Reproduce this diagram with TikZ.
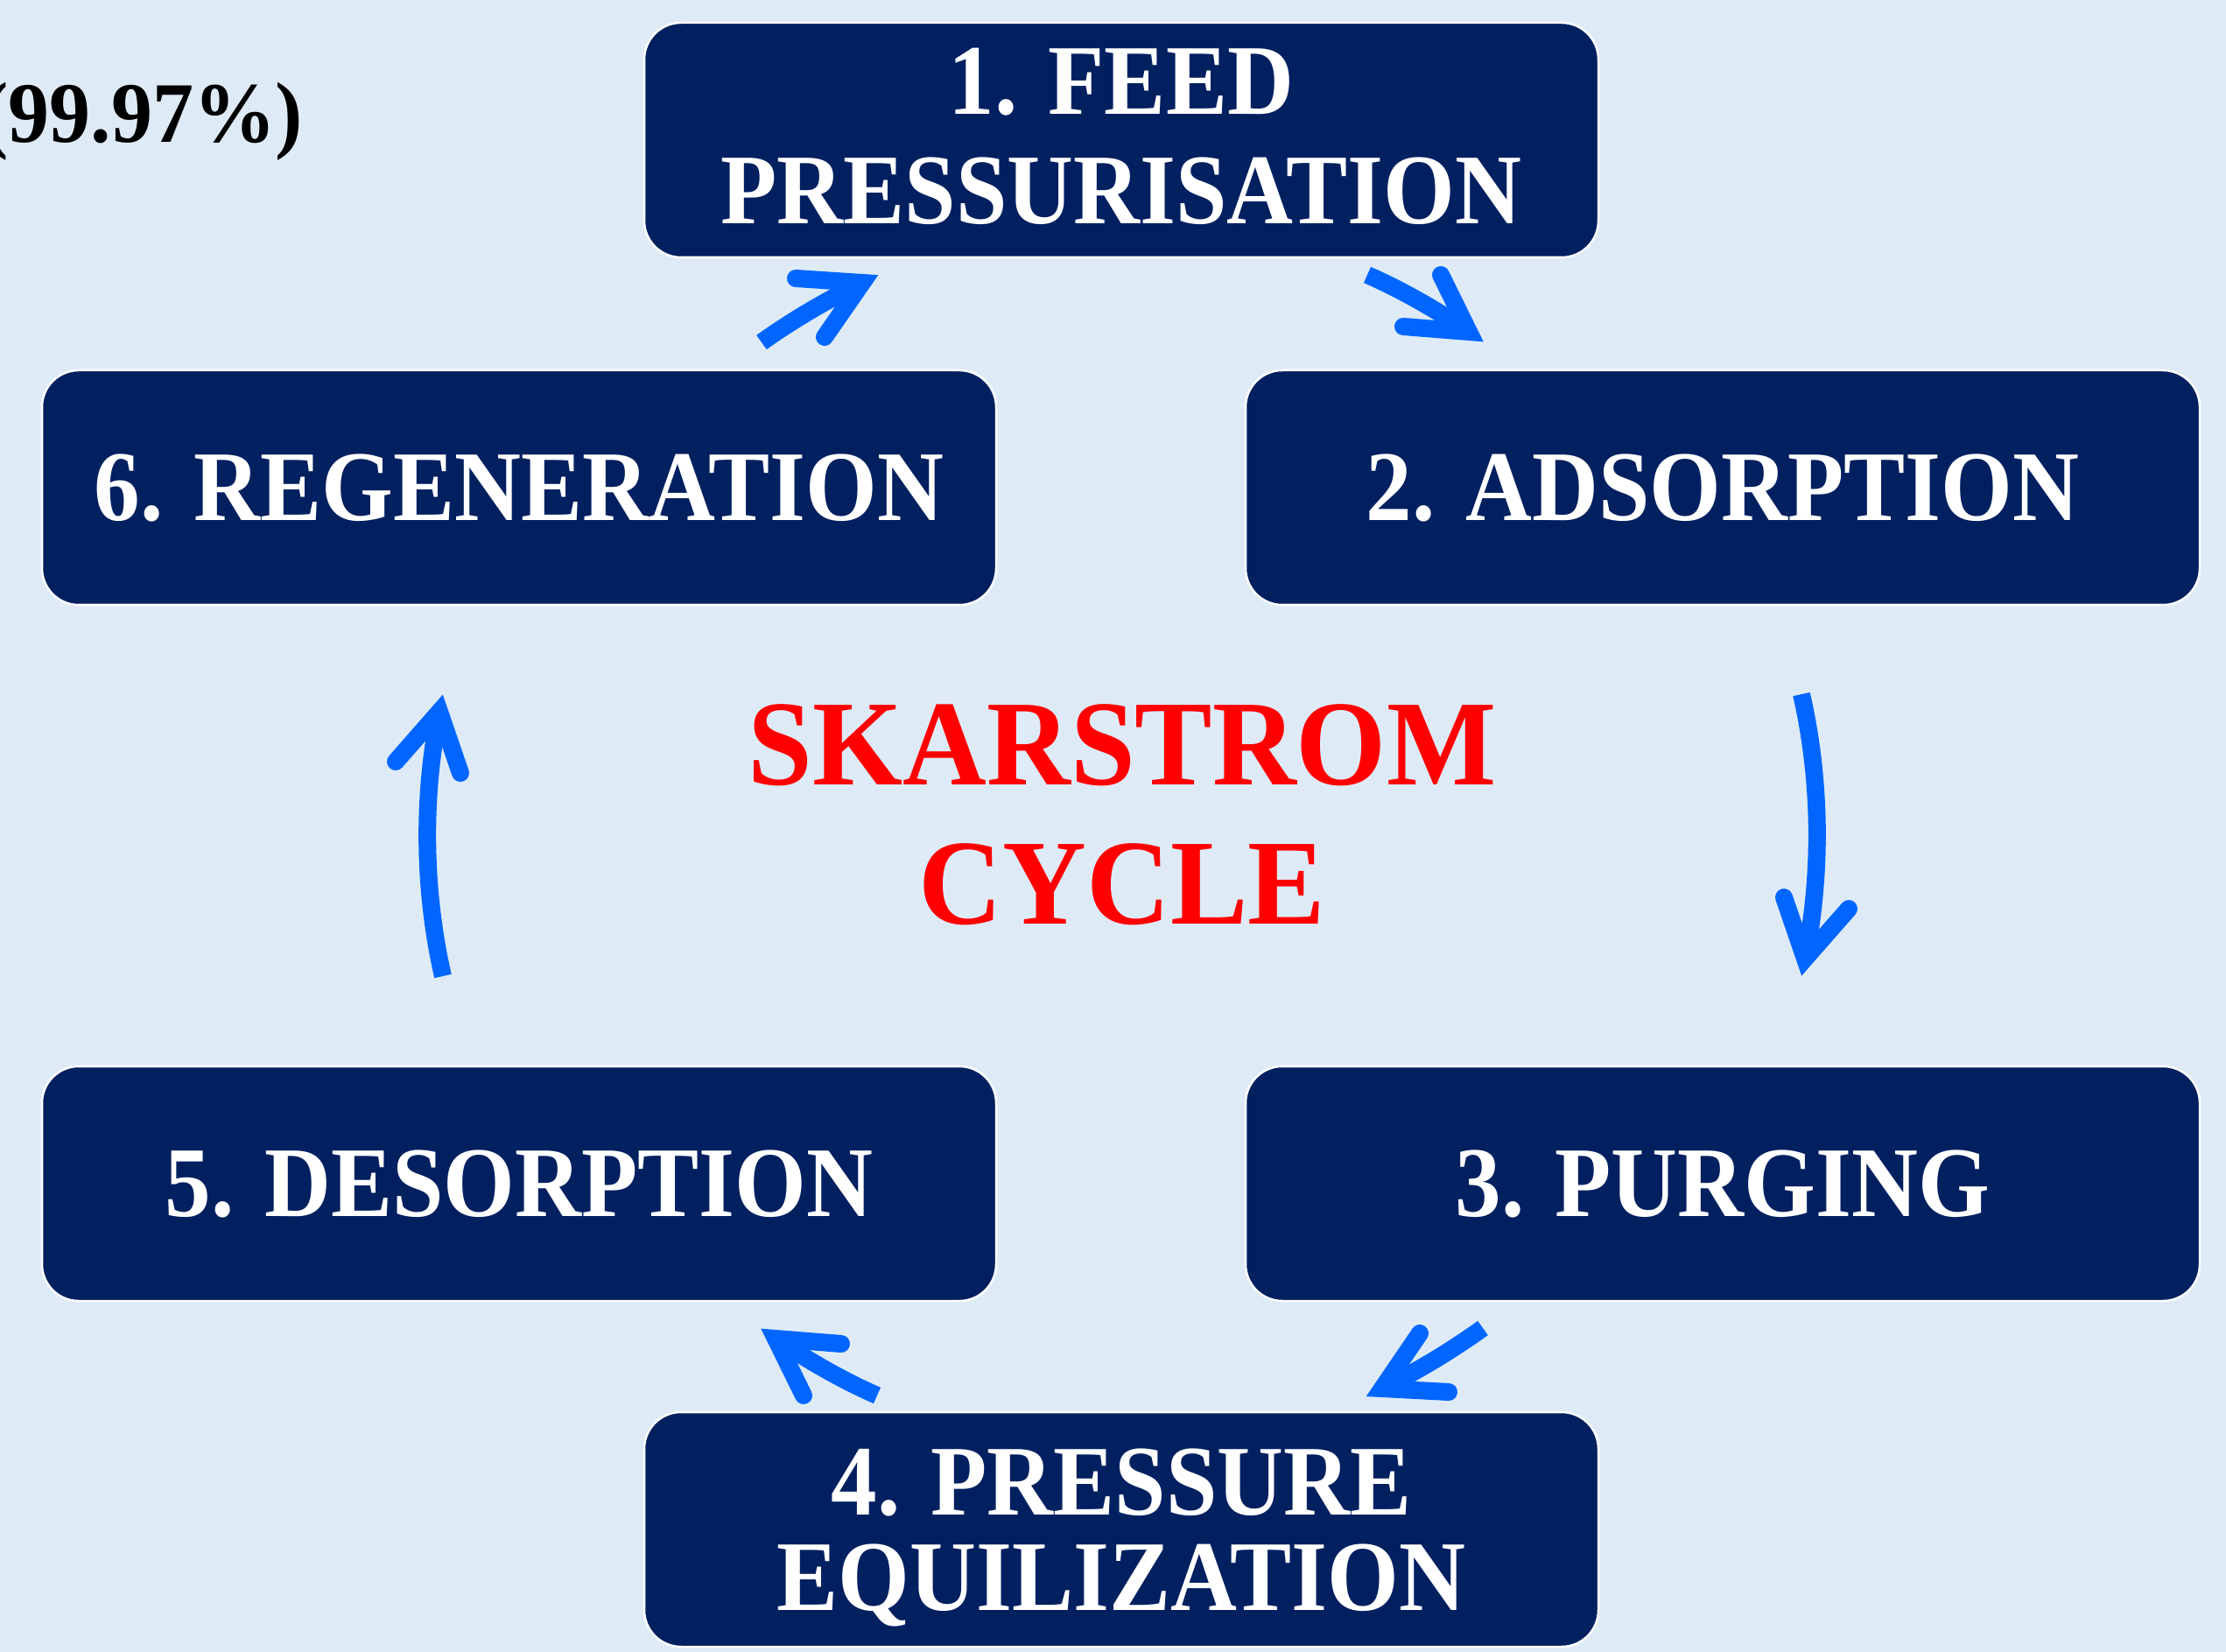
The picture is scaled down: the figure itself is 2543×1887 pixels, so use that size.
\documentclass[tikz,border=0pt]{standalone}
\usepackage{fontspec}
\newfontfamily\cyclefont{Liberation Serif}[FakeStretch=0.92]
\newfontfamily\titlefont{Liberation Serif}[FakeStretch=0.955]
\definecolor{paleblue}{HTML}{DEEBF7}
\definecolor{navy}{HTML}{002060}
\definecolor{flowblue}{HTML}{0066FF}
\begin{document}
\begin{tikzpicture}[x=0.1mm,y=-0.1mm,
  stage/.style={draw=white, line width=0.25mm, fill=navy, rounded corners=4.2mm,
    minimum width=109mm, minimum height=26.8mm, inner sep=0pt, text=white,
    align=center, text depth=0pt,
    font=\cyclefont\bfseries\fontsize{32.5}{35.6}\selectfont},
  shaft/.style={draw=flowblue, line width=2mm, line cap=butt},
  barb/.style={draw=flowblue, line width=2mm, line cap=round, line join=miter},
]
% canvas
\fill[paleblue] (0,0) rectangle (2543,1887);
\useasboundingbox (0,0) rectangle (2543,1887);

% purity figure, running off the left edge
\node[anchor=base east, inner sep=0pt,
      font=\titlefont\bfseries\fontsize{28}{30}\selectfont] (purity) at (347,163) {(99.97\%)};

% the six stages
\node[stage, text depth=1mm] (feed) at (1281,160) {1. FEED\\PRESSURISATION};
\node[stage] (adsorb) at (1968,557)  {2. ADSORPTION};
\node[stage] (purge)  at (1968,1352) {3. PURGING};
\node[stage, font=\cyclefont\bfseries\fontsize{32.5}{31}\selectfont]
             (equal)  at (1281,1747) {4. PRESSURE\\EQUILIZATION};
\node[stage] (desorb) at (593,1352)  {5. DESORPTION};
\node[stage] (regen)  at (593,557)   {6. REGENERATION};

% title in the middle
\node[text=red, align=center, inner sep=0pt, text depth=0pt,
      font=\titlefont\bfseries\fontsize{39.5}{45.2}\selectfont] (title) at (1282,930) {SKARSTROM\\CYCLE};

% arrow end points: tail, head, and the two barb ends
\coordinate (t1) at (870,391);   \coordinate (h1) at (985,323);
\coordinate (l1) at (942,385);   \coordinate (r1) at (909,318);
\coordinate (t2) at (1562,314);  \coordinate (h2) at (1678,379);
\coordinate (l2) at (1646,314);  \coordinate (r2) at (1603,373);
\coordinate (t3) at (2058,793);  \coordinate (h3) at (2062,1095);
\coordinate (l3) at (2038,1025); \coordinate (r3) at (2112,1038);
\coordinate (t4) at (1694,1517); \coordinate (h4) at (1579,1586);
\coordinate (l4) at (1622,1523); \coordinate (r4) at (1655,1590);
\coordinate (t5) at (1002,1594); \coordinate (h5) at (886,1529);
\coordinate (l5) at (918,1594);  \coordinate (r5) at (961,1535);
\coordinate (t6) at (506,1115);  \coordinate (h6) at (502,813);
\coordinate (l6) at (526,883);   \coordinate (r6) at (452,870);

% curved shafts
\draw[shaft] (t1) .. controls (905,366) and (944,343) .. (h1);
\draw[shaft] (t2) .. controls (1601,331) and (1641,354) .. (h2);
\draw[shaft] (t3) .. controls (2080,889) and (2082,996) .. (h3);
\draw[shaft] (t4) .. controls (1659,1542) and (1620,1566) .. (h4);
\draw[shaft] (t5) .. controls (963,1577) and (923,1554) .. (h5);
\draw[shaft] (t6) .. controls (484,1019) and (482,912) .. (h6);

% open heads
\foreach \k in {1,...,6}{
  \draw[barb] (l\k) -- (h\k) -- (r\k);
}
\end{tikzpicture}
\end{document}
